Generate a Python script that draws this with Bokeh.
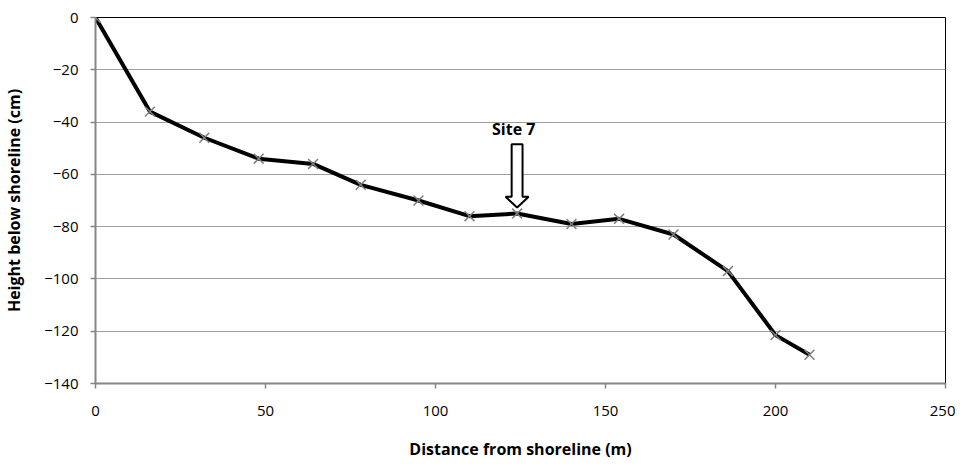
from bokeh.plotting import figure
from bokeh.models import Range1d, FixedTicker, Label
from bokeh.embed import file_html
from bokeh.resources import INLINE

# data
distance_m = [0, 16, 32, 48, 64, 78, 95, 110, 124, 140, 154, 170, 186, 200, 210]
height_cm = [0, -36, -46, -54, -56, -64, -70, -76, -75, -79, -77, -83, -97, -121.5, -129]
x_ticks = [0, 50, 100, 150, 200, 250]
y_ticks = [-140, -120, -100, -80, -60, -40, -20, 0]
site_label = "Site 7"
site_index = 8

FONT = "Open Sans"

p = figure(width=955, height=468, output_backend="svg", toolbar_location=None,
           x_range=Range1d(0, 250), y_range=Range1d(-140, 0),
           min_border_left=95, min_border_right=10, min_border_top=17, min_border_bottom=85)

p.outline_line_color = "black"
p.outline_line_width = 1
p.background_fill_color = "white"
p.border_fill_color = "white"

p.xgrid.grid_line_color = None
p.ygrid.grid_line_color = "#9e9e9e"
p.ygrid.grid_line_width = 1.2

p.xaxis.ticker = FixedTicker(ticks=x_ticks)
p.yaxis.ticker = FixedTicker(ticks=y_ticks)
for ax in (p.xaxis, p.yaxis):
    ax.axis_line_color = "#868686"
    ax.axis_line_width = 2
    ax.major_tick_line_color = "#868686"
    ax.major_tick_line_width = 1.5
    ax.major_tick_in = 0
    ax.major_tick_out = 5
    ax.minor_tick_line_color = None
    ax.major_label_text_font = FONT
    ax.major_label_text_font_size = "15px"
    ax.major_label_text_color = "black"
    ax.axis_label_text_font = FONT
    ax.axis_label_text_font_style = "bold"
    ax.axis_label_text_font_size = "16px"
    ax.axis_label_text_color = "black"

p.xaxis.axis_label = "Distance from shoreline (m)"
p.yaxis.axis_label = "Height below shoreline (cm)"
p.xaxis.major_label_standoff = 17
p.xaxis.axis_label_standoff = 19
p.yaxis.major_label_standoff = 12
p.yaxis.axis_label_standoff = 16

p.line(distance_m, height_cm, line_color="black", line_width=4, line_join="round")
p.scatter(distance_m, height_cm, marker="x", size=14, line_color="#7f7f7f", line_width=1.5)

# hollow block arrow pointing at the site
sx = distance_m[site_index]
sy = height_cm[site_index]
tip = sy + 2.3
head_top = sy + 6.4
shaft_top = sy + 26.5
sw = 1.6
hw = 3.4
p.patch([sx - sw, sx + sw, sx + sw, sx + hw, sx, sx - hw, sx - sw],
        [shaft_top, shaft_top, head_top, head_top, tip, head_top, head_top],
        fill_color="white", line_color="black", line_width=2)

p.add_layout(Label(x=sx - 1, y=shaft_top + 1.5, text=site_label, text_align="center",
                   text_baseline="bottom", text_font=FONT, text_font_style="bold",
                   text_font_size="16px", text_color="black"))

open("out.html", "w").write(file_html(p, INLINE))
